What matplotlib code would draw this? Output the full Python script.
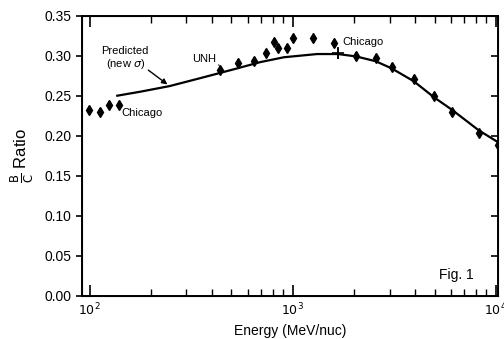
import numpy as np
import matplotlib
matplotlib.use("Agg")
import matplotlib.pyplot as plt
from matplotlib.ticker import FixedLocator, NullFormatter

# measured B/C points (diamonds)
energy = [99, 112, 125, 140, 441, 540, 644, 736, 809, 847, 942, 1003, 1259,
          1597, 2056, 2566, 3076, 3948, 4966, 6117, 8222, 10300]
ratio = [0.232, 0.230, 0.239, 0.239, 0.282, 0.291, 0.293, 0.303, 0.317, 0.309,
         0.309, 0.322, 0.322, 0.316, 0.300, 0.297, 0.286, 0.271, 0.249, 0.230,
         0.203, 0.189]
ratio_err = [0.005, 0.005, 0.005, 0.005, 0.005, 0.005, 0.004, 0.005, 0.004, 0.005,
             0.005, 0.004, 0.004, 0.004, 0.004, 0.005, 0.005, 0.005, 0.004, 0.004,
             0.005, 0.005]

# single point drawn as a cross
cross_energy = [1671]
cross_ratio = [0.303]
cross_err = [0.007]

# predicted curve (new sigma)
curve_energy = [137, 178, 248, 352, 514, 695, 906, 1321, 1671, 2056, 2566, 3076,
                3948, 4966, 6117, 8222, 10400]
curve_ratio = [0.250, 0.255, 0.262, 0.272, 0.283, 0.292, 0.298, 0.302, 0.302, 0.299,
               0.293, 0.284, 0.268, 0.248, 0.232, 0.207, 0.191]

yticks = [0.00, 0.05, 0.10, 0.15, 0.20, 0.25, 0.30, 0.35]
ytick_labels = ["0.00", "0.05", "0.10", "0.15", "0.20", "0.25", "0.30", "0.35"]
xticks = [100, 1000, 10000]
xtick_labels = [r"$10^2$", r"$10^3$", r"$10^4$"]

plt.rcParams['font.family'] = ['Liberation Sans', 'DejaVu Sans']

fig = plt.figure(figsize=(5.04, 3.39), dpi=100)
ax = fig.add_axes([0.163, 0.127, 0.825, 0.827])

ax.plot(curve_energy, curve_ratio, color="black", lw=1.6)
ax.errorbar(energy, ratio, yerr=ratio_err, fmt="d", color="black", ms=5,
            elinewidth=1.2, capsize=0)
ax.errorbar(cross_energy, cross_ratio, yerr=cross_err, fmt="+", color="black",
            ms=8, elinewidth=1.2, capsize=0, mew=1.2)

ax.set_xscale("log")
ax.set_xlim(92, 10250)
ax.set_ylim(0, 0.35)

ax.xaxis.set_major_locator(FixedLocator(xticks))
ax.set_xticklabels(xtick_labels)
ax.xaxis.set_minor_locator(FixedLocator(
    [m * 10 ** d for d in (2, 3) for m in range(2, 10)]))
ax.xaxis.set_minor_formatter(NullFormatter())
ax.set_yticks(yticks)
ax.set_yticklabels(ytick_labels)

ax.tick_params(axis="x", which="both", direction="in", top=True, labelsize=9,
               pad=4)
ax.tick_params(axis="x", which="major", length=8, width=1.2)
ax.tick_params(axis="x", which="minor", length=5, width=1)
ax.tick_params(axis="y", direction="out", length=4, width=1.2, labelsize=10)
for spine in ax.spines.values():
    spine.set_linewidth(1.4)

# right-side inward ticks, no labels
ax2 = ax.twinx()
ax2.set_ylim(0, 0.35)
ax2.set_yticks(yticks)
ax2.tick_params(axis="y", direction="in", length=5, width=1.2, labelright=False)

ax.set_xlabel("Energy (MeV/nuc)", fontsize=10, labelpad=4)
ax.set_ylabel(r"$\frac{\mathrm{B}}{\mathrm{C}}$ Ratio", fontsize=12, labelpad=6)

ax.text(150, 0.297, "Predicted\n(new $\\sigma$)", fontsize=8, ha="center",
        va="center", linespacing=1.1)
ax.annotate("", xy=(248, 0.262), xytext=(190, 0.284),
            arrowprops=dict(arrowstyle="-|>", color="black", lw=1,
                            mutation_scale=8))
ax.annotate("UNH", xy=(435, 0.288), xytext=(365, 0.289), fontsize=8,
            ha="center", va="bottom",
            arrowprops=dict(arrowstyle="-", color="black", lw=0.8,
                            shrinkA=0, shrinkB=0))
ax.text(143, 0.228, "Chicago", fontsize=8, ha="left", va="center")
ax.text(1762, 0.317, "Chicago", fontsize=8, ha="left", va="center")
ax.text(0.90, 0.075, "Fig. 1", transform=ax.transAxes, fontsize=10,
        ha="center", va="center")

fig.savefig("out.png", dpi=100)
